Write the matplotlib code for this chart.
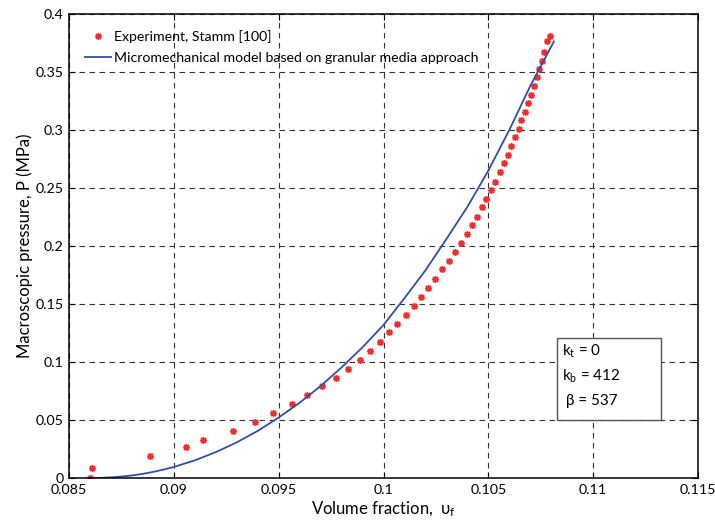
import matplotlib
matplotlib.use("Agg")
import matplotlib.pyplot as plt
from matplotlib.patches import Rectangle

plt.rcParams['font.family'] = ['Lato', 'DejaVu Sans']
plt.rcParams['mathtext.fontset'] = 'custom'
plt.rcParams['mathtext.rm'] = 'Lato'
plt.rcParams['mathtext.it'] = 'Lato:italic'

# Experimental data (Stamm [100])
exp_vf = [0.0860, 0.08611, 0.08886, 0.09059, 0.09139, 0.09281, 0.09386, 0.09473,
          0.09565, 0.09637, 0.09707, 0.09774, 0.09829, 0.09888, 0.09936, 0.09982,
          0.10028, 0.10066, 0.10107, 0.10144, 0.10179, 0.10214, 0.10247, 0.10280,
          0.10312, 0.10341, 0.10370, 0.10397, 0.10422, 0.10446, 0.10470, 0.10490,
          0.10513, 0.10533, 0.10554, 0.10575, 0.10592, 0.10610, 0.10627, 0.10645,
          0.10657, 0.10673, 0.10691, 0.10705, 0.10719, 0.10734, 0.10743, 0.10755,
          0.10767, 0.10781, 0.10794]
exp_p = [0.0000, 0.0089, 0.0192, 0.0267, 0.0328, 0.0408, 0.0486, 0.0558,
         0.0635, 0.0713, 0.0793, 0.0865, 0.0943, 0.1017, 0.1092, 0.1175,
         0.1256, 0.1328, 0.1405, 0.1485, 0.1560, 0.1635, 0.1716, 0.1799,
         0.1871, 0.1948, 0.2026, 0.2103, 0.2181, 0.2253, 0.2336, 0.2408,
         0.2483, 0.2555, 0.2635, 0.2713, 0.2787, 0.2859, 0.2942, 0.3009,
         0.3084, 0.3158, 0.3235, 0.3304, 0.3376, 0.3454, 0.3526, 0.3597,
         0.3670, 0.3764, 0.3813]

# Micromechanical model (granular media approach)
model_vf = [0.0860, 0.0865, 0.0870, 0.0875, 0.0880, 0.0885, 0.0890, 0.0895,
            0.0900, 0.0910, 0.0920, 0.0930, 0.0940, 0.0950, 0.0960, 0.0970,
            0.0980, 0.0990, 0.1000, 0.1010, 0.1020, 0.1030, 0.1040, 0.1050,
            0.1060, 0.1070, 0.10813]
model_p = [0.0000, 0.0001, 0.0005, 0.0012, 0.0022, 0.0035, 0.0052, 0.0072,
           0.0095, 0.0152, 0.0223, 0.0307, 0.0406, 0.0521, 0.0649, 0.0793,
           0.0953, 0.1127, 0.1319, 0.1550, 0.1790, 0.2060, 0.2337, 0.2650,
           0.3000, 0.3380, 0.3764]

xticks = [0.085, 0.09, 0.095, 0.1, 0.105, 0.11, 0.115]
xticklabels = ['0.085', '0.09', '0.095', '0.1', '0.105', '0.11', '0.115']
yticks = [0, 0.05, 0.1, 0.15, 0.2, 0.25, 0.3, 0.35, 0.4]
yticklabels = ['0', '0.05', '0.1', '0.15', '0.2', '0.25', '0.3', '0.35', '0.4']

params = ['k$_\\mathrm{t}$ = 0', 'k$_\\mathrm{b}$ = 412', ' β = 537']

W, H = 715, 525
fig = plt.figure(figsize=(W / 100, H / 100), dpi=100)
ax = fig.add_axes([69 / W, 1 - 478 / H, 629 / W, 464 / H])

ax.plot(exp_vf, exp_p, linestyle='none', marker=(8, 2, 0), markersize=5,
        markeredgewidth=1.0, color='#f03030', label='Experiment, Stamm [100]')
ax.plot(model_vf, model_p, color='#2f4fa6', lw=1.3,
        label='Micromechanical model based on granular media approach')

ax.set_xlim(0.085, 0.115)
ax.set_ylim(0, 0.4)
ax.set_xticks(xticks)
ax.set_xticklabels(xticklabels)
ax.set_yticks(yticks)
ax.set_yticklabels(yticklabels)
ax.tick_params(direction='in', length=4, width=0.8, top=True, right=True,
               labelsize=10.3, colors='black', pad=4)
for s in ax.spines.values():
    s.set_linewidth(1.1)
    s.set_color('black')
ax.grid(True, color='#333333', linestyle=(0, (5, 4)), linewidth=0.8)

ax.set_xlabel('Volume fraction,  υ$_\\mathrm{f}$', fontsize=12, labelpad=3)
ax.set_ylabel('Macroscopic pressure, P (MPa)', fontsize=12, labelpad=2)

leg = ax.legend(loc='upper left', frameon=False, fontsize=10.2,
                handlelength=1.8, handletextpad=0.2, borderaxespad=0.75,
                labelspacing=0.6)

# Parameter box
box = Rectangle((557 / W, 1 - 420 / H), (661 - 557) / W, (420 - 338) / H,
                transform=fig.transFigure, facecolor='white',
                edgecolor='#555555', linewidth=1.0, zorder=5)
fig.add_artist(box)
row_y = [351, 376, 401]
for txt, yy in zip(params, row_y):
    fig.text(562 / W, 1 - yy / H, txt, fontsize=11, va='center',
             ha='left', zorder=6)

fig.savefig('out.png', dpi=100)
